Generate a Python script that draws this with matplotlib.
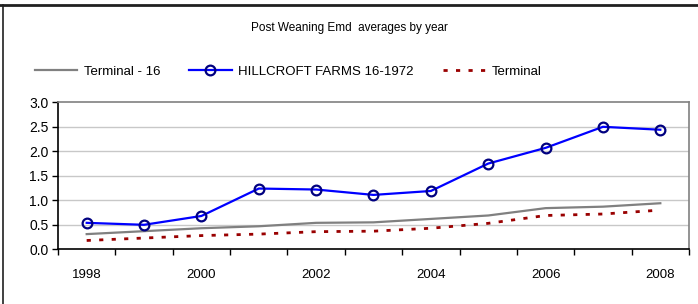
import numpy as np
import matplotlib.pyplot as plt
from matplotlib.lines import Line2D

# values
years = ['1998', '1999', '2000', '2001', '2002', '2003', '2004', '2005', '2006', '2007', '2008']
terminal_16 = [0.31, 0.37, 0.43, 0.47, 0.54, 0.55, 0.62, 0.69, 0.84, 0.87, 0.94]
hillcroft = [0.54, 0.50, 0.68, 1.24, 1.22, 1.11, 1.19, 1.75, 2.07, 2.50, 2.44]
terminal = [0.18, 0.23, 0.28, 0.31, 0.36, 0.37, 0.43, 0.53, 0.69, 0.72, 0.80]
y_ticks = [0.0, 0.5, 1.0, 1.5, 2.0, 2.5, 3.0]

plt.rcParams['font.family'] = ['Liberation Sans Narrow', 'Liberation Sans', 'DejaVu Sans']

W, H = 698, 304
fig = plt.figure(figsize=(W / 100, H / 100), dpi=100)
ax = fig.add_axes([58 / W, (H - 249.3) / H, (689 - 58) / W, (249.3 - 102.3) / H])

x = np.arange(len(years))
ax.plot(x, terminal_16, color='#808080', lw=1.6, label='Terminal - 16')
ax.plot(x, hillcroft, color='#0000ff', lw=1.6, marker='o', ms=7, mfc='none',
        mec='#000080', mew=1.6, label='HILLCROFT FARMS 16-1972')
ax.plot(x, terminal, color='#990000', lw=2, ls=(0, (1.5, 3)), label='Terminal')

ax.set_xlim(-0.5, len(years) - 0.5)
ax.set_ylim(0, 3.0)
ax.set_yticks(y_ticks)
ax.set_yticklabels([f'{v:.1f}' for v in y_ticks], fontsize=10)
for v in y_ticks[1:-1]:
    ax.axhline(v, color='#c8c8c8', lw=1, zorder=0)

# category labels every other year, tick marks between categories
ax.set_xticks(x[::2])
ax.set_xticklabels(years[::2], fontsize=9.5)
ax.tick_params(axis='x', length=0, pad=14)
ax.set_xticks(np.arange(len(years) + 1) - 0.5, minor=True)
ax.tick_params(axis='x', which='minor', length=4, color='black', width=1)
ax.tick_params(axis='y', length=4, width=1, pad=3)

ax.spines['left'].set_color('black')
ax.spines['bottom'].set_color('black')
ax.spines['top'].set_color('#808080')
ax.spines['right'].set_color('#808080')
for s in ax.spines.values():
    s.set_linewidth(1.2)

fig.text(0.5, 1 - 28 / H, 'Post Weaning Emd  averages by year', ha='center', va='center', fontsize=8.5)

fig.legend(loc='center left', bbox_to_anchor=(35 / W, 1 - 72 / H), ncol=3, frameon=False,
           fontsize=9.5, handlelength=3.2, columnspacing=2.2, handletextpad=0.5,
           borderaxespad=0, borderpad=0)

# outer border lines
fig.add_artist(Line2D([0, 1], [1 - 5 / H, 1 - 5 / H], color='#202020', lw=2))
fig.add_artist(Line2D([3 / W, 3 / W], [0, 1 - 5 / H], color='#202020', lw=1.2))

fig.savefig('out.png', dpi=100)
